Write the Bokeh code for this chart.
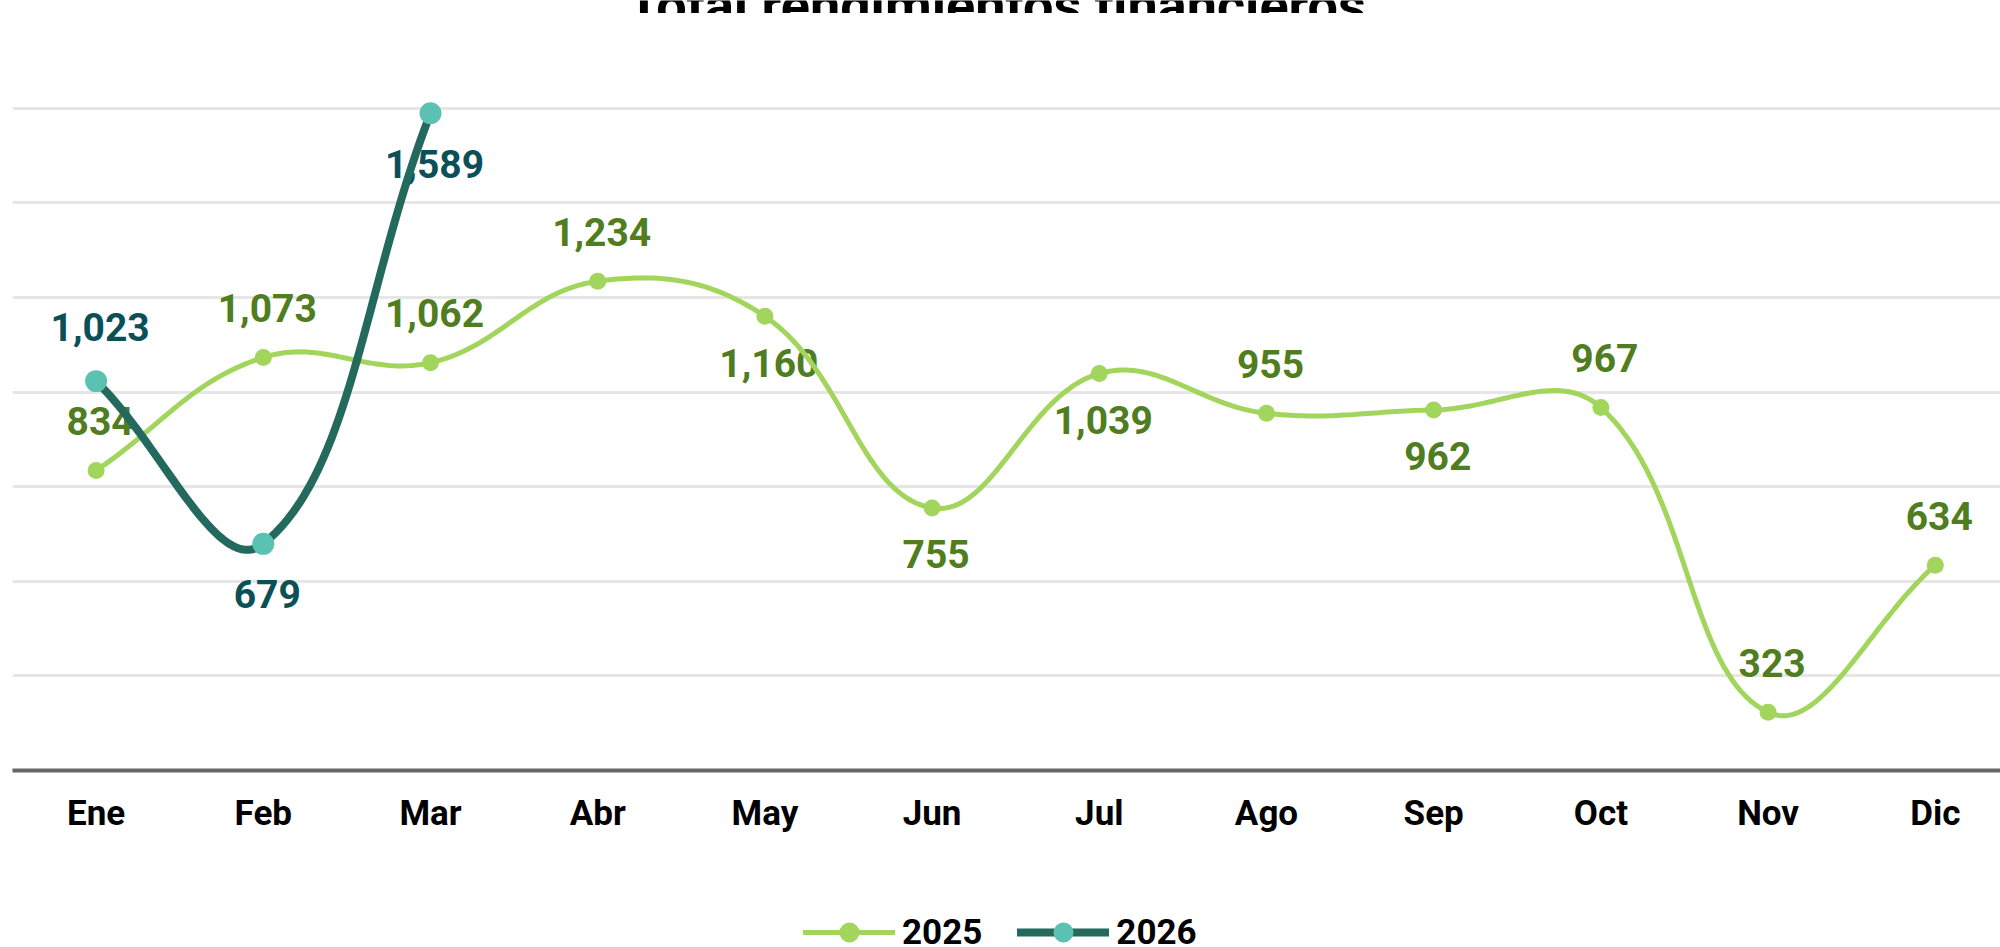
from bokeh.plotting import figure
from bokeh.layouts import column
from bokeh.models import FixedTicker, Legend, LegendItem, ColumnDataSource
from bokeh.embed import file_html
from bokeh.resources import INLINE
from bokeh.core.properties import value
import numpy as np

# ---------------- data ----------------
months = ["Ene", "Feb", "Mar", "Abr", "May", "Jun", "Jul", "Ago", "Sep", "Oct", "Nov", "Dic"]
vals_2025 = [834, 1073, 1062, 1234, 1160, 755, 1039, 955, 962, 967, 323, 634]
vals_2026 = [1023, 679, 1589]
series_names = ["2025", "2026"]
y_ticks = [200, 400, 600, 800, 1000, 1200, 1400, 1600, 1800]
title_text = "Total rendimientos financieros"

# label placement (style)
place_2025 = ["above", "above", "above", "above", "below", "below", "below",
              "above", "below", "above", "above", "above"]
place_2026 = ["above", "below", "below"]

# ---------------- styling ----------------
FONT = "Roboto"
FRAME_W, FRAME_H = 1988, 757
X_START, X_END = -0.5, 11.39
Y_START, Y_END = 200, 1800
C25_LINE = "#a2d55c"
C25_LABEL = "#4f7d20"
C26_LINE = "#24695d"
C26_MARK = "#5bc1b2"
C26_LABEL = "#0b4f59"

sx = FRAME_W / (X_END - X_START)
sy = FRAME_H / (Y_END - Y_START)


def smooth(xs, ys, t=0.4, n=40):
    """Chart.js style cubic spline (tension 0.4), control points computed in pixel space."""
    X = np.asarray(xs, float) * sx
    Y = np.asarray(ys, float) * sy
    m = len(X)
    cps_prev, cps_next = [], []
    for i in range(m):
        pi = max(i - 1, 0)
        ni = min(i + 1, m - 1)
        d01 = np.hypot(X[i] - X[pi], Y[i] - Y[pi])
        d12 = np.hypot(X[ni] - X[i], Y[ni] - Y[i])
        tot = d01 + d12
        s01 = d01 / tot if tot else 0.0
        s12 = d12 / tot if tot else 0.0
        fa, fb = t * s01, t * s12
        cps_prev.append((X[i] - fa * (X[ni] - X[pi]), Y[i] - fa * (Y[ni] - Y[pi])))
        cps_next.append((X[i] + fb * (X[ni] - X[pi]), Y[i] + fb * (Y[ni] - Y[pi])))
    outx, outy = [X[0]], [Y[0]]
    tt = np.linspace(0, 1, n)[1:]
    for i in range(m - 1):
        p0 = (X[i], Y[i])
        c1 = cps_next[i]
        c2 = cps_prev[i + 1]
        p1 = (X[i + 1], Y[i + 1])
        bx = (1 - tt) ** 3 * p0[0] + 3 * (1 - tt) ** 2 * tt * c1[0] + 3 * (1 - tt) * tt ** 2 * c2[0] + tt ** 3 * p1[0]
        by = (1 - tt) ** 3 * p0[1] + 3 * (1 - tt) ** 2 * tt * c1[1] + 3 * (1 - tt) * tt ** 2 * c2[1] + tt ** 3 * p1[1]
        outx.extend(bx)
        outy.extend(by)
    return list(np.array(outx) / sx), list(np.array(outy) / sy)


# ---------------- title strip (only the bottom of the title shows, as in the reference) ----------------
TITLE_H = 13
tf = figure(
    frame_width=2000, frame_height=TITLE_H, x_range=(0, 2000), y_range=(0, TITLE_H),
    x_axis_type=None, y_axis_type=None, output_backend="svg", toolbar_location=None,
    min_border_left=0, min_border_right=0, min_border_top=0, min_border_bottom=0,
    background_fill_color="white", border_fill_color="white",
)
tf.outline_line_color = None
tf.text(x=[984], y=[TITLE_H - 4.5], text=[title_text],
        text_font=value(FONT), text_font_style="bold", text_font_size="54px",
        text_color="#000000", text_align="center", text_baseline="alphabetic")

# ---------------- main chart ----------------
p = figure(
    frame_width=FRAME_W, frame_height=FRAME_H,
    x_range=(X_START, X_END), y_range=(Y_START, Y_END),
    output_backend="svg", toolbar_location=None,
    min_border_left=12, min_border_right=0, min_border_top=0, min_border_bottom=100,
    background_fill_color="white", border_fill_color="white",
)
p.outline_line_color = None

p.yaxis.visible = False
p.ygrid.ticker = FixedTicker(ticks=y_ticks)
p.ygrid.grid_line_color = "#e6e6e6"
p.ygrid.grid_line_width = 3
p.xgrid.visible = False

xa = p.xaxis[0]
xa.ticker = FixedTicker(ticks=list(range(len(months))))
xa.major_label_overrides = {i: m for i, m in enumerate(months)}
xa.major_tick_line_color = None
xa.minor_tick_line_color = None
xa.major_tick_out = 0
xa.major_tick_in = 0
xa.axis_line_color = "#676767"
xa.axis_line_width = 4
xa.major_label_standoff = 22
xa.major_label_text_font = FONT
xa.major_label_text_font_style = "bold"
xa.major_label_text_font_size = "35px"
xa.major_label_text_color = "#000000"

# data labels (drawn beneath lines)
x25 = list(range(len(vals_2025)))
x26 = list(range(len(vals_2026)))
lab25 = ColumnDataSource(dict(
    x=x25, y=vals_2025, t=[f"{v:,}" for v in vals_2025],
    dy=[-49.5 if s == "above" else 46.5 for s in place_2025]))
lab26 = ColumnDataSource(dict(
    x=x26, y=vals_2026, t=[f"{v:,}" for v in vals_2026],
    dy=[-54.5 if s == "above" else 50.5 for s in place_2026]))
for src, col in ((lab25, C25_LABEL), (lab26, C26_LABEL)):
    p.text(x="x", y="y", text="t", source=src, x_offset=4, y_offset="dy",
           text_font=value(FONT), text_font_style="bold", text_font_size="39px",
           text_color=col, text_align="center", text_baseline="middle")

# lines & markers
sx25, sy25 = smooth(x25, vals_2025)
sx26, sy26 = smooth(x26, vals_2026)
p.line(sx25, sy25, line_color=C25_LINE, line_width=5, line_cap="round", line_join="round")
p.scatter(x25, vals_2025, size=17, fill_color=C25_LINE, line_color=None)
p.line(sx26, sy26, line_color=C26_LINE, line_width=8, line_cap="round", line_join="round")
p.scatter(x26, vals_2026, size=22, fill_color=C26_MARK, line_color=None)

# ---------------- legend strip ----------------
# (same series drawn off-range so that only their legend glyphs show)
leg = figure(
    frame_width=2000, frame_height=77, x_range=(X_START, X_END), y_range=(-200, -100),
    x_axis_type=None, y_axis_type=None,
    output_backend="svg", toolbar_location=None,
    min_border_left=0, min_border_right=0, min_border_top=0, min_border_bottom=0,
    background_fill_color="white", border_fill_color="white",
)
leg.outline_line_color = None
k25 = [leg.line(x25, vals_2025, line_color=C25_LINE, line_width=5, line_cap="round"),
       leg.scatter(x25, vals_2025, size=17, fill_color=C25_LINE, line_color=None)]
k26 = [leg.line(x26, vals_2026, line_color=C26_LINE, line_width=8, line_cap="round"),
       leg.scatter(x26, vals_2026, size=22, fill_color=C26_MARK, line_color=None)]
legend = Legend(
    items=[LegendItem(label=series_names[0], renderers=k25),
           LegendItem(label=series_names[1], renderers=k26)],
    location=(803, -10), orientation="horizontal",
    glyph_width=92, glyph_height=50, label_height=30, label_standoff=7, spacing=35,
    padding=0, margin=0,
    label_text_font=FONT, label_text_font_style="bold", label_text_font_size="35px",
    label_text_color="#000000",
    border_line_alpha=0, background_fill_alpha=0,
)
leg.add_layout(legend)

layout = column(tf, p, leg, spacing=0)
open("out.html", "w").write(file_html(layout, INLINE))
